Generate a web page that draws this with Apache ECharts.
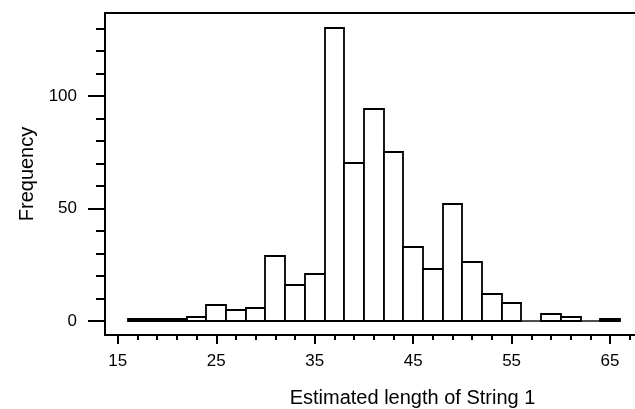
<!DOCTYPE html>
<html>
<head>
<meta charset="utf-8">
<script src="https://cdn.jsdelivr.net/npm/echarts@6/dist/echarts.min.js"></script>
<style>
html,body{margin:0;padding:0;background:#fff;}
#chart{width:635px;height:409px;}
</style>
</head>
<body>
<div id="chart"></div>
<script>
// Histogram bins: left edge of each bin (width 2)
const binLeft = [16,18,20,22,24,26,28,30,32,34,36,38,40,42,44,46,48,50,52,54,56,58,60,62,64];
const binWidth = 2;
const counts  = [1,1,1,2,7,5,6,29,16,21,130,70,94,75,33,23,52,26,12,8,0,3,2,0,1];

const xMajorTicks = [15,25,35,45,55,65];
const xMinorTicks = [17,19,21,23,27,29,31,33,37,39,41,43,47,49,51,53,57,59,61,63,67];
const yMajorTicks = [0,50,100];
const yMinorTicks = [10,20,30,40,60,70,80,90,110,120,130];

const xTitle = 'Estimated length of String 1';
const yTitle = 'Frequency';

const data = binLeft.map((b, i) => [b, b + binWidth, counts[i]]);

const XMIN = 13.7, XMAX = 68.04, YMIN = -6.2, YMAX = 136.8;
const font = 'Liberation Sans, Arial, Helvetica, sans-serif';

const chart = echarts.init(document.getElementById('chart'), null, {renderer: 'canvas'});
chart.setOption({
  backgroundColor: '#fff',
  animation: false,
  grid: {left: 105, top: 13, width: 535, height: 322, show: true,
         containLabel: false, outerBoundsMode: 'none',
         borderColor: '#000', borderWidth: 2, backgroundColor: 'transparent'},
  xAxis: [{
    type: 'value', min: XMIN, max: XMAX, position: 'bottom',
    axisLine: {show: true, onZero: false, lineStyle: {color: '#000', width: 2}},
    axisTick: {show: true, customValues: xMajorTicks, length: 9, lineStyle: {color: '#000', width: 2}},
    axisLabel: {show: true, customValues: xMajorTicks, color: '#000', fontSize: 17, fontFamily: font, margin: 18},
    splitLine: {show: false},
    name: xTitle, nameLocation: 'middle', nameGap: 53,
    nameTextStyle: {color: '#000', fontSize: 20, fontFamily: font, padding: [0, 0, 0, 80]}
  }, {
    type: 'value', min: XMIN, max: XMAX, position: 'bottom',
    axisLine: {show: false, onZero: false},
    axisTick: {show: true, customValues: xMinorTicks, length: 5, lineStyle: {color: '#000', width: 2}},
    axisLabel: {show: false},
    splitLine: {show: false}
  }],
  yAxis: [{
    type: 'value', min: YMIN, max: YMAX, position: 'left',
    axisLine: {show: true, onZero: false, lineStyle: {color: '#000', width: 2}},
    axisTick: {show: true, customValues: yMajorTicks, length: 17, lineStyle: {color: '#000', width: 2}},
    axisLabel: {show: true, customValues: yMajorTicks, color: '#000', fontSize: 17, fontFamily: font, margin: 28},
    splitLine: {show: false},
    name: yTitle, nameLocation: 'middle', nameGap: 64,
    nameTextStyle: {color: '#000', fontSize: 20, fontFamily: font}
  }, {
    type: 'value', min: YMIN, max: YMAX, position: 'left',
    axisLine: {show: false, onZero: false},
    axisTick: {show: true, customValues: yMinorTicks, length: 9, lineStyle: {color: '#000', width: 2}},
    axisLabel: {show: false},
    splitLine: {show: false}
  }],
  series: [{
    type: 'custom',
    xAxisIndex: 0, yAxisIndex: 0,
    data: data,
    renderItem: function (params, api) {
      const p0 = api.coord([api.value(0), api.value(2)]);
      const p1 = api.coord([api.value(1), 0]);
      const x0 = Math.round(p0[0]), x1 = Math.round(p1[0]);
      const yTop = Math.round(p0[1]), yBase = Math.round(p1[1]);
      if (yBase - yTop < 0.5) {
        return {type: 'line', shape: {x1: x0, y1: yBase, x2: x1, y2: yBase},
                style: {stroke: '#000', lineWidth: 1.4}};
      }
      return {
        type: 'rect',
        shape: {x: x0, y: yTop, width: x1 - x0, height: yBase - yTop},
        style: {fill: '#fff', stroke: '#000', lineWidth: 1.8}
      };
    }
  }]
});
</script>
</body>
</html>
